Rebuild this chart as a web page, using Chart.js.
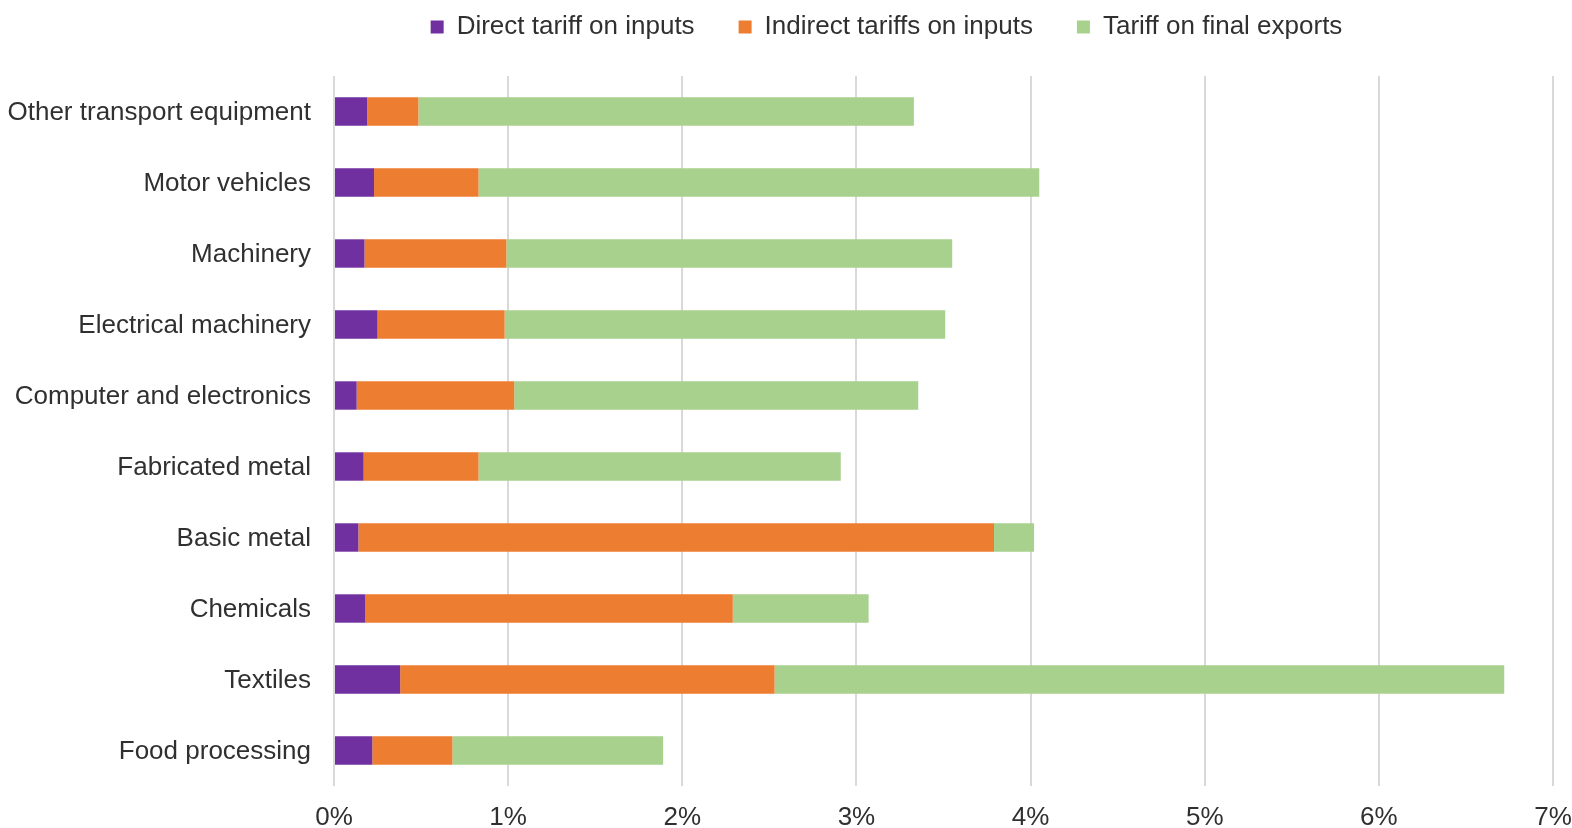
<!DOCTYPE html>
<html>
<head>
<meta charset="utf-8">
<script src="https://cdn.jsdelivr.net/npm/chart.js@4.4.0/dist/chart.umd.min.js"></script>
<style>
  html, body { margin: 0; padding: 0; background: #ffffff; overflow: hidden; width: 1572px; height: 828px; }
  #wrap { position: absolute; left: 0; top: -30px; width: 1572px; height: 858px; }
</style>
</head>
<body>
<div id="wrap"><canvas id="c" width="1572" height="858"></canvas></div>
<script>
const categories = [
  "Other transport equipment",
  "Motor vehicles",
  "Machinery",
  "Electrical machinery",
  "Computer and electronics",
  "Fabricated metal",
  "Basic metal",
  "Chemicals",
  "Textiles",
  "Food processing"
];
const seriesNames = ["Direct tariff on inputs", "Indirect tariffs on inputs", "Tariff on final exports"];
const directTariff   = [0.19, 0.23, 0.175, 0.25, 0.13, 0.17, 0.14, 0.18, 0.38, 0.22];
const indirectTariff = [0.295, 0.60, 0.815, 0.73, 0.905, 0.66, 3.65, 2.11, 2.15, 0.46];
const finalTariff    = [2.845, 3.22, 2.56, 2.53, 2.32, 2.08, 0.23, 0.78, 4.19, 1.21];
const xTicks = [0, 1, 2, 3, 4, 5, 6, 7];
const colors = ["#7030A0", "#ED7D31", "#A9D18E"];

const FONT = "'Liberation Sans', Arial, sans-serif";
const TEXT = "#303030";
const FS = 26;

const legendLayout = {
  id: 'legendLayout',
  afterInit(chart) {
    const lg = chart.legend;
    const origFit = lg.fit.bind(lg);
    lg.fit = function () { origFit(); this.height = 106; };
  },
  afterLayout(chart) {
    const lg = chart.legend;
    const dx = 110;
    lg.left += dx;
    lg.right += dx;
  }
};

new Chart(document.getElementById('c'), {
  type: 'bar',
  data: {
    labels: categories,
    datasets: [
      { label: seriesNames[0], data: directTariff, backgroundColor: colors[0] },
      { label: seriesNames[1], data: indirectTariff, backgroundColor: colors[1] },
      { label: seriesNames[2], data: finalTariff, backgroundColor: colors[2] }
    ]
  },
  plugins: [legendLayout],
  options: {
    indexAxis: 'y',
    responsive: false,
    animation: false,
    layout: { padding: { left: 0, right: 19, top: 0, bottom: 0 } },
    datasets: { bar: { barPercentage: 0.5, categoryPercentage: 0.8, borderWidth: 0 } },
    plugins: {
      tooltip: { enabled: false },
      legend: {
        position: 'top',
        align: 'center',
        labels: {
          boxWidth: 13,
          boxHeight: 13,
          padding: 44,
          color: TEXT,
          font: { family: FONT, size: FS }
        }
      }
    },
    scales: {
      x: {
        stacked: true,
        min: xTicks[0],
        max: xTicks[xTicks.length - 1],
        afterBuildTicks: (s) => { s.ticks = xTicks.map(v => ({ value: v })); },
        afterFit: (s) => { s.height = 42; },
        ticks: {
          padding: 0,
          color: TEXT,
          font: { family: FONT, size: FS },
          callback: (v) => v + '%'
        },
        grid: { color: '#d9d9d9', lineWidth: 2, tickLength: 16, drawTicks: true, tickColor: 'rgba(0,0,0,0)' },
        border: { display: false }
      },
      y: {
        stacked: true,
        afterFit: (s) => { s.width = 334; },
        ticks: {
          padding: 23,
          labelOffset: 1,
          color: TEXT,
          font: { family: FONT, size: FS }
        },
        grid: { display: false, drawTicks: false },
        border: { display: false }
      }
    }
  }
});
</script>
</body>
</html>
